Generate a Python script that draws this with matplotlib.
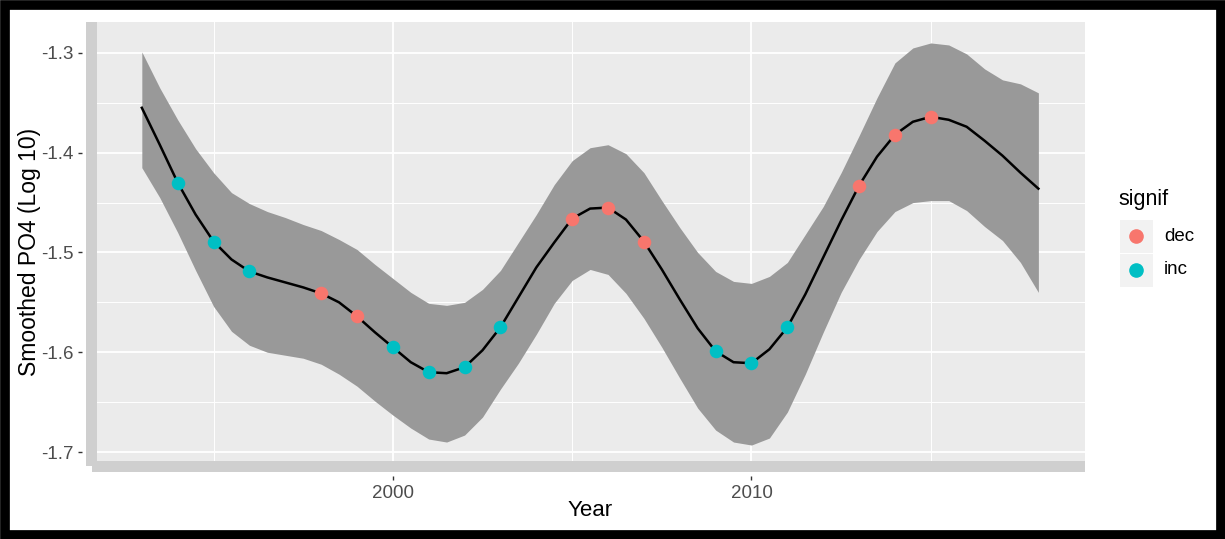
import matplotlib
matplotlib.use("Agg")
import matplotlib.pyplot as plt
from matplotlib.patches import Rectangle
from matplotlib.lines import Line2D

plt.rcParams['font.family'] = ['Liberation Sans', 'DejaVu Sans']

# smoothed curve and its confidence band, every half year
years = [1993.0, 1993.5, 1994.0, 1994.5, 1995.0, 1995.5, 1996.0, 1996.5, 1997.0, 1997.5,
         1998.0, 1998.5, 1999.0, 1999.5, 2000.0, 2000.5, 2001.0, 2001.5, 2002.0, 2002.5,
         2003.0, 2003.5, 2004.0, 2004.5, 2005.0, 2005.5, 2006.0, 2006.5, 2007.0, 2007.5,
         2008.0, 2008.5, 2009.0, 2009.5, 2010.0, 2010.5, 2011.0, 2011.5, 2012.0, 2012.5,
         2013.0, 2013.5, 2014.0, 2014.5, 2015.0, 2015.5, 2016.0, 2016.5, 2017.0, 2017.5,
         2018.0]
fit = [-1.355, -1.392, -1.430, -1.462, -1.489, -1.507, -1.519, -1.525, -1.530, -1.535,
       -1.541, -1.550, -1.564, -1.580, -1.595, -1.610, -1.620, -1.621, -1.615, -1.598,
       -1.575, -1.545, -1.515, -1.490, -1.466, -1.456, -1.455, -1.467, -1.489, -1.517,
       -1.547, -1.576, -1.599, -1.610, -1.611, -1.597, -1.575, -1.542, -1.505, -1.468,
       -1.433, -1.404, -1.382, -1.369, -1.364, -1.367, -1.374, -1.388, -1.403, -1.420,
       -1.436]
upper = [-1.299, -1.335, -1.367, -1.396, -1.420, -1.440, -1.451, -1.459, -1.465, -1.472,
         -1.478, -1.487, -1.497, -1.512, -1.526, -1.540, -1.551, -1.553, -1.550, -1.537,
         -1.518, -1.490, -1.462, -1.432, -1.408, -1.395, -1.392, -1.401, -1.420, -1.448,
         -1.475, -1.500, -1.519, -1.529, -1.531, -1.524, -1.510, -1.482, -1.454, -1.420,
         -1.383, -1.345, -1.310, -1.295, -1.290, -1.292, -1.301, -1.316, -1.327, -1.331,
         -1.340]
lower = [-1.415, -1.445, -1.480, -1.518, -1.554, -1.579, -1.593, -1.600, -1.603, -1.606,
         -1.612, -1.622, -1.634, -1.649, -1.663, -1.676, -1.687, -1.690, -1.683, -1.665,
         -1.637, -1.611, -1.582, -1.551, -1.528, -1.517, -1.522, -1.541, -1.566, -1.595,
         -1.626, -1.656, -1.678, -1.690, -1.693, -1.686, -1.660, -1.622, -1.580, -1.540,
         -1.507, -1.479, -1.459, -1.450, -1.448, -1.448, -1.458, -1.474, -1.488, -1.510,
         -1.540]

# significant years
pt_years = [1994, 1995, 1996, 1998, 1999, 2000, 2001, 2002, 2003,
            2005, 2006, 2007, 2009, 2010, 2011, 2013, 2014, 2015]
pt_vals = [-1.430, -1.489, -1.519, -1.541, -1.564, -1.595, -1.620, -1.615, -1.575,
           -1.466, -1.455, -1.489, -1.599, -1.611, -1.575, -1.433, -1.382, -1.364]
pt_signif = ['inc', 'inc', 'inc', 'dec', 'dec', 'inc', 'inc', 'inc', 'inc',
             'dec', 'dec', 'dec', 'inc', 'inc', 'inc', 'dec', 'dec', 'dec']

levels = ['dec', 'inc']
colours = {'dec': '#F8766D', 'inc': '#00BFC4'}

W, H = 1225, 539
fig = plt.figure(figsize=(W / 100, H / 100), dpi=100)
fig.patch.set_facecolor('white')


def fx(x):
    return x / W


def fy(y):
    return 1 - y / H


# panel in pixels
L, T, R, B = 97, 22, 1085, 461
ax = fig.add_axes([fx(L), fy(B), fx(R) - fx(L), fy(T) - fy(B)])
ax.set_facecolor('#EBEBEB')
ax.set_xlim(1991.75, 2019.3)
ax.set_ylim(-1.709, -1.269)

# grey strips along the left and bottom edges
fig.add_artist(Rectangle((fx(86), fy(466)), fx(97) - fx(86), fy(T) - fy(466),
                         transform=fig.transFigure, color='#CFCFCF', lw=0, zorder=0))
fig.add_artist(Rectangle((fx(92), fy(472)), fx(R) - fx(92), fy(B) - fy(472),
                         transform=fig.transFigure, color='#CFCFCF', lw=0, zorder=0))

ax.set_xticks([2000, 2010])
ax.set_xticks([1995, 2005, 2015], minor=True)
ax.set_yticks([-1.7, -1.6, -1.5, -1.4, -1.3])
ax.set_yticks([-1.65, -1.55, -1.45, -1.35], minor=True)
ax.set_yticklabels(['-1.7', '-1.6', '-1.5', '-1.4', '-1.3'])
ax.grid(which='major', color='white', lw=1.3)
ax.grid(which='minor', color='white', lw=0.7)
ax.set_axisbelow(True)
for s in ax.spines.values():
    s.set_visible(False)
ax.spines['left'].set_position(('outward', 11))
ax.spines['bottom'].set_position(('outward', 11))
ax.tick_params(which='major', length=3, width=1, color='#333333',
               labelsize=13.5, labelcolor='#4D4D4D', pad=3)
ax.tick_params(which='minor', length=0)

ax.fill_between(years, lower, upper, color='#999999', lw=0, zorder=2)
ax.plot(years, fit, color='black', lw=1.8, zorder=3)
for lev in levels:
    xs = [x for x, s in zip(pt_years, pt_signif) if s == lev]
    ys = [v for v, s in zip(pt_vals, pt_signif) if s == lev]
    ax.scatter(xs, ys, s=95, color=colours[lev], lw=0, zorder=4)

ax.set_xlabel('Year', fontsize=16, color='black')
ax.set_ylabel('Smoothed PO4 (Log 10)', fontsize=16.5, color='black')
ax.xaxis.set_label_coords((590 - L) / (R - L), (B - 500) / (B - T))
ax.yaxis.set_label_coords((41 - L) / (R - L), (B - 252) / (B - T))

# legend drawn by hand to get the ggplot look
fig.text(fx(1118), fy(200), 'signif', fontsize=15.5, va='center', ha='left')
for i, lev in enumerate(levels):
    top = 220 + i * 34
    fig.add_artist(Rectangle((fx(1120), fy(top + 33)), fx(33), fy(0) - fy(33),
                             transform=fig.transFigure, color='#F2F2F2', lw=0))
    fig.add_artist(Line2D([fx(1136)], [fy(top + 16)], transform=fig.transFigure,
                          marker='o', ms=9.5, color=colours[lev], lw=0))
    fig.text(fx(1164), fy(top + 16), lev, fontsize=13.5, va='center', ha='left',
             color='black')

# black frame round the picture
fig.add_artist(Rectangle((fx(5), fy(535)), fx(1216), fy(0) - fy(530),
                         transform=fig.transFigure, fill=False, ec='black', lw=7))

fig.savefig('out.png', dpi=100)
